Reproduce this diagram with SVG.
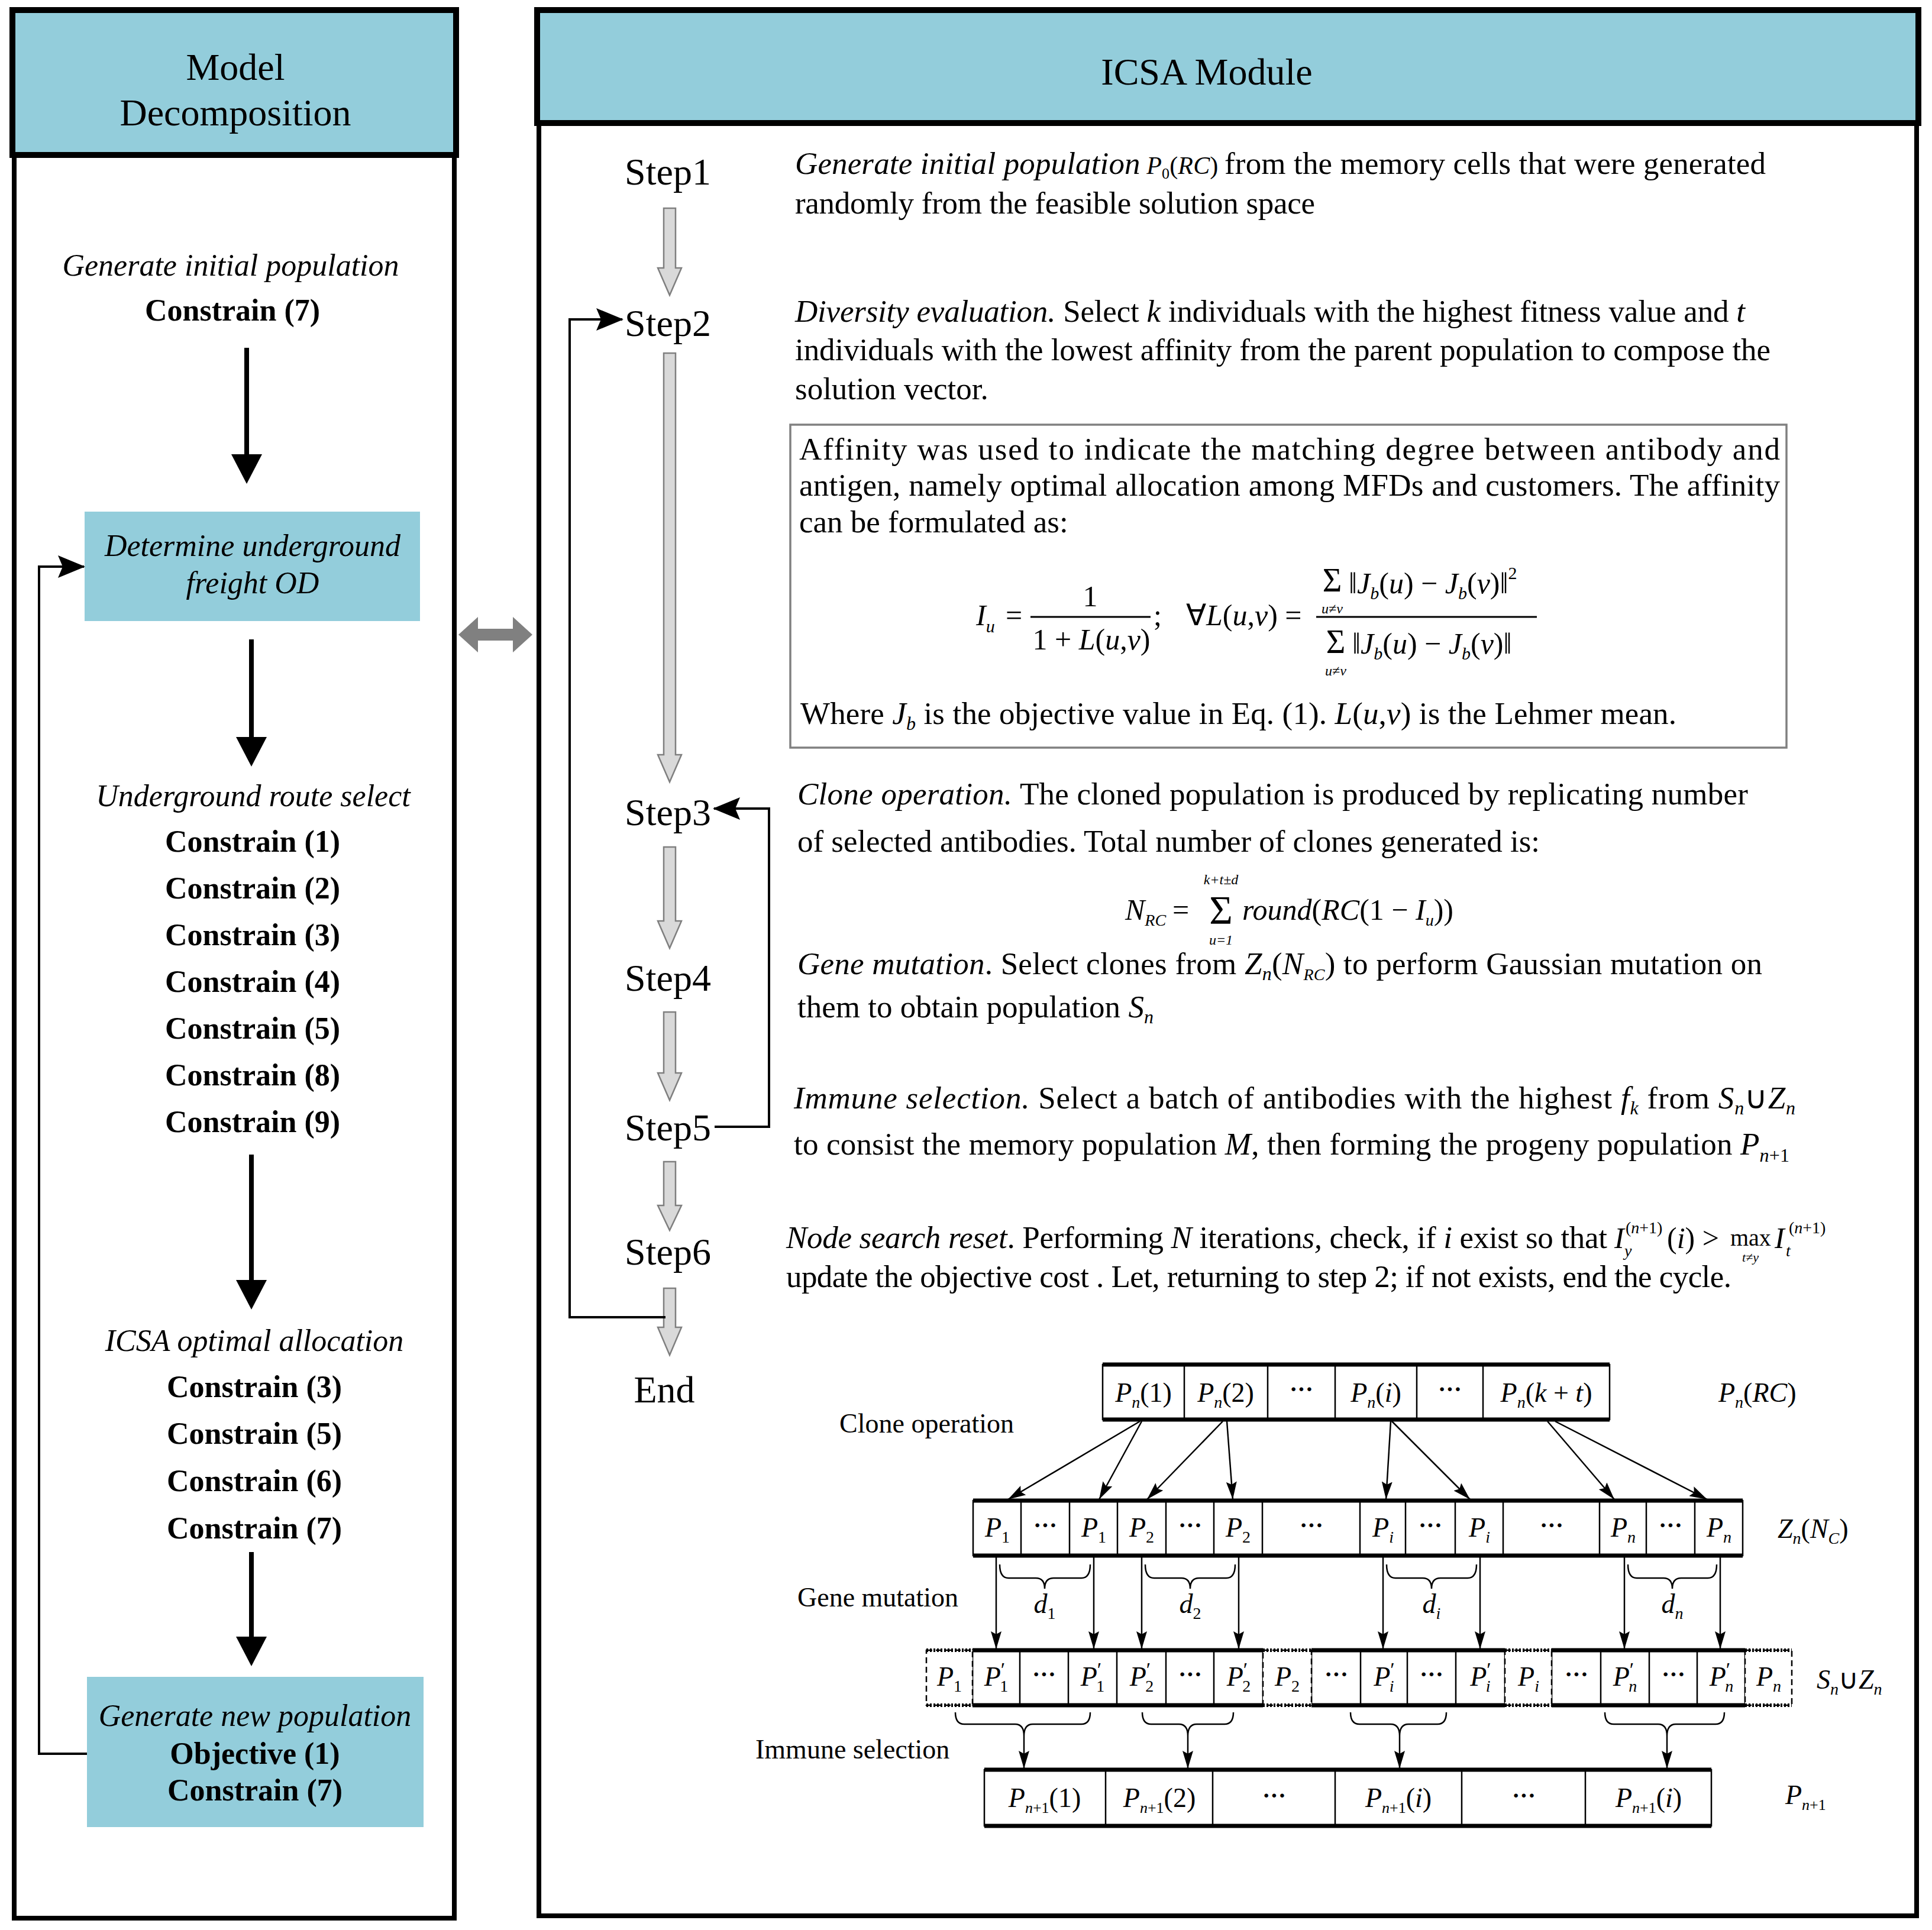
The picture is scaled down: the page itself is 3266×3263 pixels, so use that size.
<svg xmlns="http://www.w3.org/2000/svg" width="3266" height="3263" viewBox="0 0 3266 3263">
<defs>
<style>
.t{font-family:"Liberation Serif","Times New Roman",serif;fill:#000}
.i{font-style:italic}
.b{font-weight:bold}
.hdr{fill:#93CDDB;stroke:#000;stroke-width:10}
.frame{fill:none;stroke:#000;stroke-width:8}
.blue{fill:#93CDDB}
.thick{fill:none;stroke:#000;stroke-width:8}
.loop{fill:none;stroke:#000;stroke-width:4}
.garrow{fill:#D9D9D9;stroke:#7F7F7F;stroke-width:2.5}
.thin{fill:none;stroke:#000;stroke-width:2.5}
.cell{fill:#fff;stroke:#000;stroke-width:2.5}
.bar{stroke:#000;stroke-width:7}
.dash{fill:#fff;stroke:#000;stroke-width:2.5;stroke-dasharray:10,6}
.dbar{stroke:#000;stroke-width:6;stroke-dasharray:3,3}
.frac{stroke:#000;stroke-width:3}
</style>
<marker id="mBig" markerUnits="userSpaceOnUse" markerWidth="50" markerHeight="52" refX="10" refY="26" orient="auto"><path d="M0,0 L50,26 L0,52 z" fill="#000"/></marker>
<marker id="mLoop" markerUnits="userSpaceOnUse" markerWidth="46" markerHeight="40" refX="44" refY="20" orient="auto"><path d="M0,1 L46,20 L0,39 L8,20 z" fill="#000"/></marker>
<marker id="mSmall" markerUnits="userSpaceOnUse" markerWidth="30" markerHeight="18" refX="30" refY="9" orient="auto"><path d="M0,0 L30,9 L0,18 L5,9 z" fill="#000"/></marker>
</defs>
<rect width="3266" height="3263" fill="#fff"/>

<!-- LEFT PANEL -->
<g id="panel-model">
<path class="frame" d="M24,262 V3243 H768 V262"/>
<rect class="hdr" x="21" y="17" width="750" height="245"/>
<text class="t" x="398" y="135" font-size="64" text-anchor="middle">Model</text>
<text class="t" x="398" y="212" font-size="64" text-anchor="middle">Decomposition</text>
</g>
<g id="node-init">
<text class="t i" x="390" y="466" font-size="52" text-anchor="middle">Generate initial population</text>
<text class="t b" x="393" y="542" font-size="52" text-anchor="middle">Constrain (7)</text>
</g>
<g id="node-od">
<rect class="blue" x="143" y="865" width="567" height="185"/>
<text class="t i" x="427" y="940" font-size="52" text-anchor="middle">Determine underground</text>
<text class="t i" x="427" y="1003" font-size="52" text-anchor="middle">freight OD</text>
</g>
<g id="node-route">
<text class="t i" x="428" y="1363" font-size="52" text-anchor="middle">Underground route select</text>
<text class="t b" x="427" y="1440" font-size="52" text-anchor="middle">Constrain (1)</text>
<text class="t b" x="427" y="1519" font-size="52" text-anchor="middle">Constrain (2)</text>
<text class="t b" x="427" y="1598" font-size="52" text-anchor="middle">Constrain (3)</text>
<text class="t b" x="427" y="1677" font-size="52" text-anchor="middle">Constrain (4)</text>
<text class="t b" x="427" y="1756" font-size="52" text-anchor="middle">Constrain (5)</text>
<text class="t b" x="427" y="1835" font-size="52" text-anchor="middle">Constrain (8)</text>
<text class="t b" x="427" y="1914" font-size="52" text-anchor="middle">Constrain (9)</text>
</g>
<g id="node-icsa-alloc">
<text class="t i" x="430" y="2284" font-size="52" text-anchor="middle">ICSA optimal allocation</text>
<text class="t b" x="430" y="2362" font-size="52" text-anchor="middle">Constrain (3)</text>
<text class="t b" x="430" y="2441" font-size="52" text-anchor="middle">Constrain (5)</text>
<text class="t b" x="430" y="2521" font-size="52" text-anchor="middle">Constrain (6)</text>
<text class="t b" x="430" y="2601" font-size="52" text-anchor="middle">Constrain (7)</text>
</g>
<g id="node-newpop">
<rect class="blue" x="147" y="2835" width="569" height="254"/>
<text class="t i" x="431" y="2918" font-size="52" text-anchor="middle">Generate new population</text>
<text class="t b" x="431" y="2982" font-size="52" text-anchor="middle">Objective (1)</text>
<text class="t b" x="431" y="3044" font-size="52" text-anchor="middle">Constrain (7)</text>
</g>

<!-- RIGHT PANEL -->
<g id="panel-icsa">
<path class="frame" d="M911,208 V3239 H3240 V208"/>
<rect class="hdr" x="908" y="17" width="2335" height="191"/>
<text class="t" x="2040" y="143" font-size="64" text-anchor="middle">ICSA Module</text>
</g>
<g id="steps">
<text class="t" x="1129" y="312" font-size="64" text-anchor="middle">Step1</text>
<text class="t" x="1129" y="568" font-size="64" text-anchor="middle">Step2</text>
<text class="t" x="1129" y="1395" font-size="64" text-anchor="middle">Step3</text>
<text class="t" x="1129" y="1675" font-size="64" text-anchor="middle">Step4</text>
<text class="t" x="1129" y="1928" font-size="64" text-anchor="middle">Step5</text>
<text class="t" x="1129" y="2138" font-size="64" text-anchor="middle">Step6</text>
<text class="t" x="1123" y="2371" font-size="64" text-anchor="middle">End</text>
</g>
<g id="step-arrows">
<polygon class="garrow" points="1122,352 1142,352 1142,453 1152,453 1132,499 1112,453 1122,453"/>
<polygon class="garrow" points="1122,597 1142,597 1142,1276 1152,1276 1132,1322 1112,1276 1122,1276"/>
<polygon class="garrow" points="1122,1432 1142,1432 1142,1557 1152,1557 1132,1603 1112,1557 1122,1557"/>
<polygon class="garrow" points="1122,1711 1142,1711 1142,1814 1152,1814 1132,1860 1112,1814 1122,1814"/>
<polygon class="garrow" points="1122,1964 1142,1964 1142,2038 1152,2038 1132,2080 1112,2038 1122,2038"/>
<polygon class="garrow" points="1122,2178 1142,2178 1142,2244 1152,2244 1132,2291 1112,2244 1122,2244"/>
</g>

<g id="step1-text">
<text class="t" x="1344" y="294" font-size="53" textLength="1641"><tspan class="i">Generate initial population</tspan><tspan font-size="42"> <tspan class="i">P</tspan><tspan font-size="26" dy="8">0</tspan><tspan dy="-8">(</tspan><tspan class="i">RC</tspan>) </tspan> from the memory cells that were generated</text>
<text class="t" x="1344" y="361" font-size="53" textLength="879">randomly from the feasible solution space</text>
</g>
<g id="step2-text">
<text class="t" x="1344" y="544" font-size="53" textLength="1606"><tspan class="i">Diversity evaluation.</tspan> Select <tspan class="i">k</tspan> individuals with the highest fitness value and <tspan class="i">t</tspan></text>
<text class="t" x="1344" y="609" font-size="53" textLength="1649">individuals with the lowest affinity from the parent population  to compose the</text>
<text class="t" x="1344" y="675" font-size="53">solution vector.</text>
</g>
<g id="affinity-box">
<rect x="1336" y="718" width="1684" height="546" fill="#fff" stroke="#808080" stroke-width="3.5"/>
<text class="t" x="1351" y="777" font-size="53" textLength="1658">Affinity was used to indicate the matching degree between antibody and</text>
<text class="t" x="1351" y="838" font-size="53" textLength="1658">antigen, namely optimal allocation among MFDs and customers. The affinity</text>
<text class="t" x="1351" y="900" font-size="53">can be formulated as:</text>
<text class="t i" x="1650" y="1057" font-size="50">I<tspan font-size="30" dy="12">u</tspan></text>
<text class="t" x="1700" y="1057" font-size="50">=</text>
<line class="frac" x1="1742" y1="1043" x2="1945" y2="1043"/>
<text class="t" x="1843" y="1025" font-size="50" text-anchor="middle">1</text>
<text class="t" x="1845" y="1098" font-size="50" text-anchor="middle">1 + <tspan class="i">L</tspan>(<tspan class="i">u</tspan>,<tspan class="i">v</tspan>)</text>
<text class="t" x="1950" y="1057" font-size="50">;</text>
<text class="t" x="2005" y="1057" font-size="50">∀<tspan class="i">L</tspan>(<tspan class="i">u</tspan>,<tspan class="i">v</tspan>) =</text>
<line class="frac" x1="2225" y1="1043" x2="2598" y2="1043"/>
<text class="t" x="2252" y="1000" font-size="56" text-anchor="middle">Σ</text>
<text class="t i" x="2252" y="1037" font-size="24" text-anchor="middle">u≠v</text>
<text class="t" x="2280" y="1003" font-size="50">‖<tspan class="i">J</tspan><tspan class="i" font-size="30" dy="10">b</tspan><tspan dy="-10">(</tspan><tspan class="i">u</tspan>) − <tspan class="i">J</tspan><tspan class="i" font-size="30" dy="10">b</tspan><tspan dy="-10">(</tspan><tspan class="i">v</tspan>)‖<tspan font-size="30" dy="-24">2</tspan></text>
<text class="t" x="2258" y="1104" font-size="56" text-anchor="middle">Σ</text>
<text class="t i" x="2258" y="1142" font-size="24" text-anchor="middle">u≠v</text>
<text class="t" x="2286" y="1105" font-size="50">‖<tspan class="i">J</tspan><tspan class="i" font-size="30" dy="10">b</tspan><tspan dy="-10">(</tspan><tspan class="i">u</tspan>) − <tspan class="i">J</tspan><tspan class="i" font-size="30" dy="10">b</tspan><tspan dy="-10">(</tspan><tspan class="i">v</tspan>)‖</text>
<text class="t" x="1353" y="1224" font-size="53" textLength="1481">Where <tspan class="i">J</tspan><tspan class="i" font-size="32" dy="10">b</tspan><tspan dy="-10"> is the objective value in Eq. (1). </tspan><tspan class="i">L</tspan>(<tspan class="i">u</tspan>,<tspan class="i">v</tspan>) is the Lehmer mean.</text>
</g>
<g id="step3-text">
<text class="t" x="1348" y="1360" font-size="53" textLength="1607"><tspan class="i">Clone operation.</tspan> The cloned population is produced by replicating number</text>
<text class="t" x="1348" y="1440" font-size="53" textLength="1255">of selected antibodies. Total number of clones generated is:</text>
<text class="t i" x="1902" y="1555" font-size="50">N<tspan font-size="28" dy="10">RC</tspan></text>
<text class="t" x="1982" y="1555" font-size="50">=</text>
<text class="t" x="2064" y="1561" font-size="68" text-anchor="middle">Σ</text>
<text class="t i" x="2064" y="1495" font-size="24" text-anchor="middle">k+t±d</text>
<text class="t i" x="2064" y="1597" font-size="24" text-anchor="middle">u=1</text>
<text class="t" x="2100" y="1555" font-size="50"><tspan class="i">round</tspan>(<tspan class="i">RC</tspan>(1 − <tspan class="i">I</tspan><tspan class="i" font-size="28" dy="10">u</tspan><tspan dy="-10">))</tspan></text>
</g>
<g id="step4-text">
<text class="t" x="1348" y="1647" font-size="53" textLength="1631"><tspan class="i">Gene mutation</tspan>. Select clones from <tspan class="i">Z</tspan><tspan class="i" font-size="32" dy="10">n</tspan><tspan dy="-10">(</tspan><tspan class="i">N</tspan><tspan class="i" font-size="28" dy="10">RC</tspan><tspan dy="-10">)</tspan> to perform Gaussian mutation on</text>
<text class="t" x="1348" y="1720" font-size="53">them to obtain population <tspan class="i">S</tspan><tspan class="i" font-size="32" dy="10">n</tspan></text>
</g>
<g id="step5-text">
<text class="t" x="1342" y="1874" font-size="53" textLength="1693"><tspan class="i">Immune selection.</tspan> Select a batch of antibodies with the highest <tspan class="i">f</tspan><tspan class="i" font-size="32" dy="10">k</tspan><tspan dy="-10"> from </tspan><tspan class="i">S</tspan><tspan class="i" font-size="32" dy="10">n</tspan><tspan dy="-10">∪</tspan><tspan class="i">Z</tspan><tspan class="i" font-size="32" dy="10">n</tspan></text>
<text class="t" x="1342" y="1952" font-size="53" textLength="1683">to consist the memory population <tspan class="i">M</tspan>, then forming the progeny population  <tspan class="i">P</tspan><tspan font-size="32" dy="12"><tspan class="i">n</tspan>+1</tspan></text>
</g>
<g id="step6-text">
<text class="t" x="1329" y="2110" font-size="53" textLength="1388"><tspan class="i">Node search reset</tspan>. Performing <tspan class="i">N</tspan> iteration<tspan class="i">s,</tspan> check, if <tspan class="i">i</tspan> exist so that</text>
<text class="t i" x="2729" y="2110" font-size="50">I</text>
<text class="t" x="2748" y="2085" font-size="28">(<tspan class="i">n</tspan>+1)</text>
<text class="t i" x="2746" y="2124" font-size="28">y</text>
<text class="t" x="2818" y="2110" font-size="50">(<tspan class="i">i</tspan>) &gt;</text>
<text class="t" x="2925" y="2106" font-size="40">max</text>
<text class="t i" x="2959" y="2133" font-size="22" text-anchor="middle">t≠y</text>
<text class="t i" x="3000" y="2110" font-size="50">I</text>
<text class="t" x="3024" y="2085" font-size="28">(<tspan class="i">n</tspan>+1)</text>
<text class="t i" x="3019" y="2124" font-size="28">t</text>
<text class="t" x="1329" y="2176" font-size="53" textLength="1598">update the objective cost . Let, returning to step 2; if not exists, end the cycle.</text>
</g>

<!-- Bottom illustration -->
<g id="row-pnrc">
<rect class="cell" x="1864" y="2307" width="857" height="93"/>
<line class="bar" x1="1864" y1="2307" x2="2721" y2="2307"/>
<line class="bar" x1="1864" y1="2400" x2="2721" y2="2400"/>
<path class="thin" d="M2002,2307V2400M2143,2307V2400M2257,2307V2400M2395,2307V2400M2507,2307V2400"/>
<text class="t" x="1933" y="2370" font-size="46" text-anchor="middle"><tspan class="i">P</tspan><tspan class="i" font-size="28" dy="10">n</tspan><tspan dy="-10">(1)</tspan></text>
<text class="t" x="2072" y="2370" font-size="46" text-anchor="middle"><tspan class="i">P</tspan><tspan class="i" font-size="28" dy="10">n</tspan><tspan dy="-10">(2)</tspan></text>
<text class="t b" x="2200" y="2362" font-size="40" text-anchor="middle">···</text>
<text class="t" x="2326" y="2370" font-size="46" text-anchor="middle"><tspan class="i">P</tspan><tspan class="i" font-size="28" dy="10">n</tspan><tspan dy="-10">(</tspan><tspan class="i">i</tspan>)</text>
<text class="t b" x="2451" y="2362" font-size="40" text-anchor="middle">···</text>
<text class="t" x="2614" y="2370" font-size="46" text-anchor="middle"><tspan class="i">P</tspan><tspan class="i" font-size="28" dy="10">n</tspan><tspan dy="-10">(</tspan><tspan class="i">k</tspan> + <tspan class="i">t</tspan>)</text>
<text class="t" x="2905" y="2370" font-size="46"><tspan class="i">P</tspan><tspan class="i" font-size="28" dy="10">n</tspan><tspan dy="-10">(</tspan><tspan class="i">RC</tspan>)</text>
</g>
<g id="row-zn">
<rect class="cell" x="1645" y="2537" width="1301" height="93"/>
<line class="bar" x1="1645" y1="2537" x2="2946" y2="2537"/>
<line class="bar" x1="1645" y1="2630" x2="2946" y2="2630"/>
<path class="thin" d="M1726,2537V2630M1808,2537V2630M1889,2537V2630M1971,2537V2630M2052,2537V2630M2134,2537V2630M2299,2537V2630M2376,2537V2630M2460,2537V2630M2541,2537V2630M2704,2537V2630M2783,2537V2630M2865,2537V2630"/>
<text class="t" x="1686" y="2598" font-size="46" text-anchor="middle"><tspan class="i">P</tspan><tspan font-size="28" dy="10">1</tspan></text>
<text class="t b" x="1767" y="2592" font-size="40" text-anchor="middle">···</text>
<text class="t" x="1849" y="2598" font-size="46" text-anchor="middle"><tspan class="i">P</tspan><tspan font-size="28" dy="10">1</tspan></text>
<text class="t" x="1930" y="2598" font-size="46" text-anchor="middle"><tspan class="i">P</tspan><tspan font-size="28" dy="10">2</tspan></text>
<text class="t b" x="2012" y="2592" font-size="40" text-anchor="middle">···</text>
<text class="t" x="2093" y="2598" font-size="46" text-anchor="middle"><tspan class="i">P</tspan><tspan font-size="28" dy="10">2</tspan></text>
<text class="t b" x="2217" y="2592" font-size="40" text-anchor="middle">···</text>
<text class="t" x="2338" y="2598" font-size="46" text-anchor="middle"><tspan class="i">P</tspan><tspan class="i" font-size="28" dy="10">i</tspan></text>
<text class="t b" x="2418" y="2592" font-size="40" text-anchor="middle">···</text>
<text class="t" x="2501" y="2598" font-size="46" text-anchor="middle"><tspan class="i">P</tspan><tspan class="i" font-size="28" dy="10">i</tspan></text>
<text class="t b" x="2623" y="2592" font-size="40" text-anchor="middle">···</text>
<text class="t" x="2744" y="2598" font-size="46" text-anchor="middle"><tspan class="i">P</tspan><tspan class="i" font-size="28" dy="10">n</tspan></text>
<text class="t b" x="2824" y="2592" font-size="40" text-anchor="middle">···</text>
<text class="t" x="2906" y="2598" font-size="46" text-anchor="middle"><tspan class="i">P</tspan><tspan class="i" font-size="28" dy="10">n</tspan></text>
<text class="t" x="3005" y="2600" font-size="46"><tspan class="i">Z</tspan><tspan class="i" font-size="28" dy="10">n</tspan><tspan dy="-10">(</tspan><tspan class="i">N</tspan><tspan class="i" font-size="28" dy="10">C</tspan><tspan dy="-10">)</tspan></text>
</g>
<g id="row-snzn">
<rect class="cell" x="1644" y="2790" width="491" height="93"/>
<rect class="cell" x="2217" y="2790" width="327" height="93"/>
<rect class="cell" x="2623" y="2790" width="327" height="93"/>
<line class="bar" x1="1644" y1="2790" x2="2135" y2="2790"/>
<line class="bar" x1="1644" y1="2883" x2="2135" y2="2883"/>
<line class="bar" x1="2217" y1="2790" x2="2544" y2="2790"/>
<line class="bar" x1="2217" y1="2883" x2="2544" y2="2883"/>
<line class="bar" x1="2623" y1="2790" x2="2950" y2="2790"/>
<line class="bar" x1="2623" y1="2883" x2="2950" y2="2883"/>
<path class="thin" d="M1724,2790V2883M1806,2790V2883M1888,2790V2883M1971,2790V2883M2052,2790V2883M2300,2790V2883M2379,2790V2883M2461,2790V2883M2706,2790V2883M2788,2790V2883M2869,2790V2883"/>
<rect class="dash" x="1566" y="2790" width="78" height="93"/>
<rect class="dash" x="2135" y="2790" width="82" height="93"/>
<rect class="dash" x="2544" y="2790" width="79" height="93"/>
<rect class="dash" x="2950" y="2790" width="79" height="93"/>
<path class="dbar" d="M1566,2790H1644M1566,2883H1644M2135,2790H2217M2135,2883H2217M2544,2790H2623M2544,2883H2623M2950,2790H3029M2950,2883H3029"/>
<text class="t" x="1605" y="2850" font-size="46" text-anchor="middle"><tspan class="i">P</tspan><tspan font-size="28" dy="10">1</tspan></text>
<text class="t" x="1684" y="2850" font-size="46" text-anchor="middle"><tspan class="i">P</tspan><tspan font-size="34" dy="-16">′</tspan><tspan font-size="28" dx="-9" dy="26">1</tspan></text>
<text class="t b" x="1765" y="2844" font-size="40" text-anchor="middle">···</text>
<text class="t" x="1847" y="2850" font-size="46" text-anchor="middle"><tspan class="i">P</tspan><tspan font-size="34" dy="-16">′</tspan><tspan font-size="28" dx="-9" dy="26">1</tspan></text>
<text class="t" x="1930" y="2850" font-size="46" text-anchor="middle"><tspan class="i">P</tspan><tspan font-size="34" dy="-16">′</tspan><tspan font-size="28" dx="-9" dy="26">2</tspan></text>
<text class="t b" x="2012" y="2844" font-size="40" text-anchor="middle">···</text>
<text class="t" x="2094" y="2850" font-size="46" text-anchor="middle"><tspan class="i">P</tspan><tspan font-size="34" dy="-16">′</tspan><tspan font-size="28" dx="-9" dy="26">2</tspan></text>
<text class="t" x="2176" y="2850" font-size="46" text-anchor="middle"><tspan class="i">P</tspan><tspan font-size="28" dy="10">2</tspan></text>
<text class="t b" x="2259" y="2844" font-size="40" text-anchor="middle">···</text>
<text class="t" x="2340" y="2850" font-size="46" text-anchor="middle"><tspan class="i">P</tspan><tspan font-size="34" dy="-16">′</tspan><tspan class="i" font-size="28" dx="-9" dy="26">i</tspan></text>
<text class="t b" x="2420" y="2844" font-size="40" text-anchor="middle">···</text>
<text class="t" x="2503" y="2850" font-size="46" text-anchor="middle"><tspan class="i">P</tspan><tspan font-size="34" dy="-16">′</tspan><tspan class="i" font-size="28" dx="-9" dy="26">i</tspan></text>
<text class="t" x="2584" y="2850" font-size="46" text-anchor="middle"><tspan class="i">P</tspan><tspan class="i" font-size="28" dy="10">i</tspan></text>
<text class="t b" x="2665" y="2844" font-size="40" text-anchor="middle">···</text>
<text class="t" x="2747" y="2850" font-size="46" text-anchor="middle"><tspan class="i">P</tspan><tspan font-size="34" dy="-16">′</tspan><tspan class="i" font-size="28" dx="-9" dy="26">n</tspan></text>
<text class="t b" x="2829" y="2844" font-size="40" text-anchor="middle">···</text>
<text class="t" x="2910" y="2850" font-size="46" text-anchor="middle"><tspan class="i">P</tspan><tspan font-size="34" dy="-16">′</tspan><tspan class="i" font-size="28" dx="-9" dy="26">n</tspan></text>
<text class="t" x="2990" y="2850" font-size="46" text-anchor="middle"><tspan class="i">P</tspan><tspan class="i" font-size="28" dy="10">n</tspan></text>
<text class="t" x="3071" y="2855" font-size="46"><tspan class="i">S</tspan><tspan class="i" font-size="28" dy="10">n</tspan><tspan dy="-10">∪</tspan><tspan class="i">Z</tspan><tspan class="i" font-size="28" dy="10">n</tspan></text>
</g>
<g id="row-pn1">
<rect class="cell" x="1664" y="2992" width="1229" height="95"/>
<line class="bar" x1="1664" y1="2992" x2="2893" y2="2992"/>
<line class="bar" x1="1664" y1="3087" x2="2893" y2="3087"/>
<path class="thin" d="M1869,2992V3087M2050,2992V3087M2257,2992V3087M2471,2992V3087M2680,2992V3087"/>
<text class="t" x="1766" y="3055" font-size="46" text-anchor="middle"><tspan class="i">P</tspan><tspan font-size="26" dy="10"><tspan class="i">n</tspan>+1</tspan><tspan dy="-10">(1)</tspan></text>
<text class="t" x="1960" y="3055" font-size="46" text-anchor="middle"><tspan class="i">P</tspan><tspan font-size="26" dy="10"><tspan class="i">n</tspan>+1</tspan><tspan dy="-10">(2)</tspan></text>
<text class="t b" x="2154" y="3049" font-size="40" text-anchor="middle">···</text>
<text class="t" x="2364" y="3055" font-size="46" text-anchor="middle"><tspan class="i">P</tspan><tspan font-size="26" dy="10"><tspan class="i">n</tspan>+1</tspan><tspan dy="-10">(</tspan><tspan class="i">i</tspan>)</text>
<text class="t b" x="2576" y="3049" font-size="40" text-anchor="middle">···</text>
<text class="t" x="2787" y="3055" font-size="46" text-anchor="middle"><tspan class="i">P</tspan><tspan font-size="26" dy="10"><tspan class="i">n</tspan>+1</tspan><tspan dy="-10">(</tspan><tspan class="i">i</tspan>)</text>
<text class="t" x="3018" y="3050" font-size="46"><tspan class="i">P</tspan><tspan font-size="26" dy="10"><tspan class="i">n</tspan>+1</tspan></text>
</g>
<g id="labels-bottom">
<text class="t" x="1419" y="2422" font-size="46">Clone operation</text>
<text class="t" x="1348" y="2716" font-size="46">Gene mutation</text>
<text class="t" x="1277" y="2973" font-size="46">Immune selection</text>
<text class="t i" x="1766" y="2727" font-size="46" text-anchor="middle">d<tspan font-size="28" dy="10" font-style="normal">1</tspan></text>
<text class="t i" x="2012" y="2727" font-size="46" text-anchor="middle">d<tspan font-size="28" dy="10" font-style="normal">2</tspan></text>
<text class="t i" x="2420" y="2727" font-size="46" text-anchor="middle">d<tspan font-size="28" dy="10">i</tspan></text>
<text class="t i" x="2827" y="2727" font-size="46" text-anchor="middle">d<tspan font-size="28" dy="10">n</tspan></text>
</g>

<!-- CONNECTORS -->
<g id="connectors">
<line class="thick" x1="417" y1="588" x2="417" y2="778" marker-end="url(#mBig)"/>
<line class="thick" x1="425" y1="1081" x2="425" y2="1256" marker-end="url(#mBig)"/>
<line class="thick" x1="425" y1="1952" x2="425" y2="2174" marker-end="url(#mBig)"/>
<line class="thick" x1="425" y1="2624" x2="425" y2="2777" marker-end="url(#mBig)"/>
<polyline class="loop" points="147,2965 66,2965 66,958 142,958" marker-end="url(#mLoop)"/>
<polygon points="775,1073 808,1043 808,1063 867,1063 867,1043 900,1073 867,1103 867,1083 808,1083 808,1103" fill="#808080"/>
<polyline class="loop" points="1125,2227 963,2227 963,540 1052,540" marker-end="url(#mLoop)"/>
<polyline class="loop" points="1208,1905 1300,1905 1300,1367 1207,1367" marker-end="url(#mLoop)"/>
<g class="thin">
<line x1="1927" y1="2403" x2="1704" y2="2535" marker-end="url(#mSmall)"/>
<line x1="1930" y1="2403" x2="1858" y2="2535" marker-end="url(#mSmall)"/>
<line x1="2067" y1="2403" x2="1939" y2="2535" marker-end="url(#mSmall)"/>
<line x1="2074" y1="2403" x2="2084" y2="2535" marker-end="url(#mSmall)"/>
<line x1="2351" y1="2403" x2="2343" y2="2535" marker-end="url(#mSmall)"/>
<line x1="2353" y1="2403" x2="2485" y2="2535" marker-end="url(#mSmall)"/>
<line x1="2616" y1="2403" x2="2729" y2="2535" marker-end="url(#mSmall)"/>
<line x1="2629" y1="2403" x2="2886" y2="2535" marker-end="url(#mSmall)"/>
<line x1="1684" y1="2633" x2="1684" y2="2788" marker-end="url(#mSmall)"/>
<line x1="1849" y1="2633" x2="1849" y2="2788" marker-end="url(#mSmall)"/>
<line x1="1930" y1="2633" x2="1930" y2="2788" marker-end="url(#mSmall)"/>
<line x1="2094" y1="2633" x2="2094" y2="2788" marker-end="url(#mSmall)"/>
<line x1="2338" y1="2633" x2="2338" y2="2788" marker-end="url(#mSmall)"/>
<line x1="2502" y1="2633" x2="2502" y2="2788" marker-end="url(#mSmall)"/>
<line x1="2746" y1="2633" x2="2746" y2="2788" marker-end="url(#mSmall)"/>
<line x1="2908" y1="2633" x2="2908" y2="2788" marker-end="url(#mSmall)"/>
<path d="M1690,2645 Q1690,2668 1705,2668 L1751,2668 Q1766,2668 1766,2686 Q1766,2668 1781,2668 L1828,2668 Q1843,2668 1843,2645"/>
<path d="M1936,2645 Q1936,2668 1951,2668 L1997,2668 Q2012,2668 2012,2686 Q2012,2668 2027,2668 L2073,2668 Q2088,2668 2088,2645"/>
<path d="M2344,2645 Q2344,2668 2359,2668 L2405,2668 Q2420,2668 2420,2686 Q2420,2668 2435,2668 L2481,2668 Q2496,2668 2496,2645"/>
<path d="M2752,2645 Q2752,2668 2767,2668 L2812,2668 Q2827,2668 2827,2686 Q2827,2668 2842,2668 L2887,2668 Q2902,2668 2902,2645"/>
<path d="M1615,2895 Q1615,2915 1630,2915 L1716,2915 Q1731,2915 1731,2935 Q1731,2915 1746,2915 L1828,2915 Q1843,2915 1843,2895"/>
<path d="M1931,2895 Q1931,2915 1946,2915 L1993,2915 Q2008,2915 2008,2935 Q2008,2915 2023,2915 L2070,2915 Q2085,2915 2085,2895"/>
<path d="M2283,2895 Q2283,2915 2298,2915 L2351,2915 Q2366,2915 2366,2935 Q2366,2915 2381,2915 L2430,2915 Q2445,2915 2445,2895"/>
<path d="M2713,2895 Q2713,2915 2728,2915 L2803,2915 Q2818,2915 2818,2935 Q2818,2915 2833,2915 L2900,2915 Q2915,2915 2915,2895"/>
<line x1="1731" y1="2935" x2="1731" y2="2990" marker-end="url(#mSmall)"/>
<line x1="2008" y1="2935" x2="2008" y2="2990" marker-end="url(#mSmall)"/>
<line x1="2366" y1="2935" x2="2366" y2="2990" marker-end="url(#mSmall)"/>
<line x1="2818" y1="2935" x2="2818" y2="2990" marker-end="url(#mSmall)"/>
</g>
</g>
</svg>
